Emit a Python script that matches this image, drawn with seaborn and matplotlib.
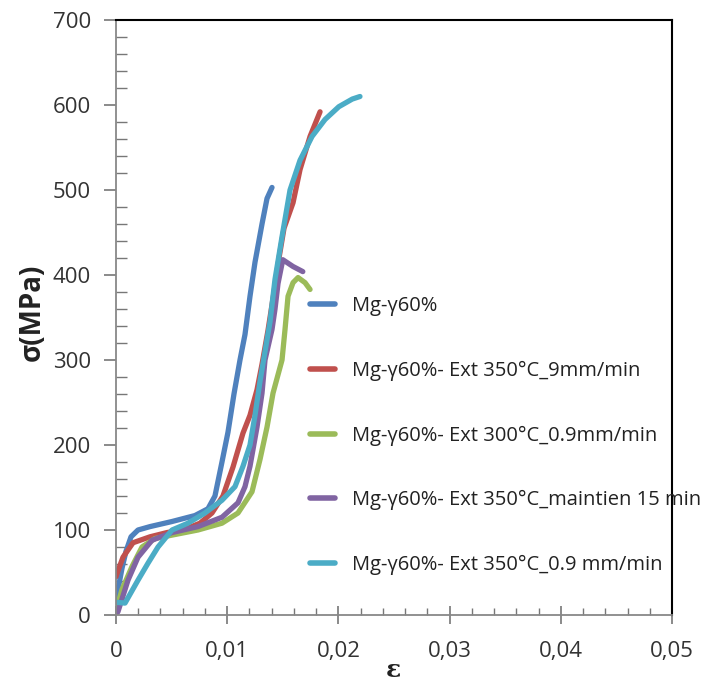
import matplotlib
matplotlib.use('Agg')
import matplotlib.pyplot as plt
import seaborn as sns
import pandas as pd
from matplotlib.ticker import MultipleLocator

# courbes contrainte-déformation
noms = ['Mg-γ60%',
        'Mg-γ60%- Ext 350°C_9mm/min',
        'Mg-γ60%- Ext 300°C_0.9mm/min',
        'Mg-γ60%- Ext 350°C_maintien 15 min',
        'Mg-γ60%- Ext 350°C_0.9 mm/min']
couleurs = ['#4F81BD', '#C0504D', '#9BBB59', '#8064A2', '#4BACC6']

eps_1 = [0, 0.00018, 0.00054, 0.0009, 0.00135, 0.00198, 0.00306, 0.00504, 0.0071, 0.00827,
         0.0089, 0.00953, 0.01007, 0.01061, 0.01115, 0.0116, 0.01205, 0.0125, 0.01313, 0.01358, 0.01403]
sig_1 = [5, 30, 55, 75, 92, 100, 104, 110, 117, 125,
         140, 180, 215, 260, 300, 330, 375, 415, 460, 490, 503]

eps_2 = [0, 0.00018, 0.00063, 0.00153, 0.00306, 0.00459, 0.00603, 0.00755, 0.00863, 0.00962,
         0.01052, 0.01142, 0.01205, 0.01268, 0.01313, 0.01367, 0.01421, 0.01466, 0.01511, 0.01592, 0.01655, 0.01745, 0.01835]
sig_2 = [45, 52, 68, 85, 92, 97, 100, 108, 120, 140,
         174, 214, 235, 265, 295, 335, 380, 420, 455, 485, 524, 563, 592]

eps_3 = [0, 0.00054, 0.00144, 0.00234, 0.00351, 0.00504, 0.00737, 0.00953, 0.01097, 0.01223,
         0.01295, 0.01358, 0.01412, 0.01493, 0.01520, 0.01547, 0.01592, 0.01637, 0.01700, 0.01745]
sig_3 = [5, 30, 57, 80, 90, 94, 100, 108, 120, 145,
         183, 221, 261, 300, 336, 375, 391, 397, 391, 383]

eps_4 = [0, 0.00018, 0.00108, 0.00198, 0.00324, 0.00504, 0.00737, 0.00953, 0.01097, 0.01160,
         0.01205, 0.01268, 0.01313, 0.01340, 0.01403, 0.01430, 0.01457, 0.01500, 0.01592, 0.01680]
sig_4 = [0, 4, 41, 68, 88, 97, 104, 115, 132, 151,
         175, 221, 261, 300, 336, 360, 390, 418, 410, 404]

eps_5 = [0, 0.00081, 0.00198, 0.00288, 0.00378, 0.00504, 0.00647, 0.00800, 0.00953, 0.01070,
         0.01142, 0.01205, 0.01250, 0.01295, 0.01340, 0.01385, 0.01430, 0.01493, 0.01565, 0.01655,
         0.01763, 0.01880, 0.02004, 0.02125, 0.02194]
sig_5 = [15, 14, 41, 61, 80, 100, 108, 120, 135, 151,
         175, 200, 235, 275, 310, 345, 395, 445, 500, 535, 563, 583, 598, 607, 610]

x_ticks = [0, 0.01, 0.02, 0.03, 0.04, 0.05]
x_labels = ['0', '0,01', '0,02', '0,03', '0,04', '0,05']
y_ticks = [0, 100, 200, 300, 400, 500, 600, 700]

frames = []
for nom, e, s in zip(noms, [eps_1, eps_2, eps_3, eps_4, eps_5], [sig_1, sig_2, sig_3, sig_4, sig_5]):
    frames.append(pd.DataFrame({'eps': e, 'sigma': s, 'serie': nom}))
df = pd.concat(frames, ignore_index=True)

sns.set_style('ticks')
plt.rcParams['font.family'] = ['Open Sans', 'DejaVu Sans']

fig = plt.figure(figsize=(7.04, 6.86), dpi=100)
ax = fig.add_axes([116 / 704, 1 - 615 / 686, 556 / 704, 595 / 686])

sns.lineplot(data=df, x='eps', y='sigma', hue='serie', hue_order=noms,
             palette=couleurs, sort=False, estimator=None, linewidth=3.8, ax=ax)

ax.set_xlim(0, 0.05)
ax.set_ylim(0, 700)
ax.set_xticks(x_ticks)
ax.set_xticklabels(x_labels)
ax.set_yticks(y_ticks)
ax.xaxis.set_minor_locator(MultipleLocator(0.002))
ax.yaxis.set_minor_locator(MultipleLocator(20))

ax.tick_params(axis='x', which='major', direction='inout', length=13, width=1.2,
               color='#777777', labelsize=16, labelcolor='#333333', pad=12)
ax.tick_params(axis='x', which='minor', direction='in', length=5, width=1.0, color='#777777')
ax.tick_params(axis='y', which='major', direction='out', length=9, width=1.2,
               color='#777777', labelsize=16, labelcolor='#333333', pad=9)
ax.tick_params(axis='y', which='minor', direction='in', length=8, width=1.0, color='#777777')

for cote in ['left', 'bottom']:
    ax.spines[cote].set_color('#888888')
    ax.spines[cote].set_linewidth(1.3)
for cote in ['top', 'right']:
    ax.spines[cote].set_visible(True)
    ax.spines[cote].set_color('black')
    ax.spines[cote].set_linewidth(1.5)

ax.set_xlabel('')
ax.set_ylabel('')
fig.text(32 / 704, 1 - 312 / 686, 'σ(MPa)', rotation=90, ha='center', va='center',
         fontsize=20, fontweight='bold', color='#222222')
fig.text(393 / 704, 1 - 670 / 686, 'ε', ha='center', va='center',
         fontsize=18, fontweight='bold', family='DejaVu Serif', color='#222222')

leg = ax.legend(loc='upper left', bbox_to_anchor=(310 / 704, 1 - 296 / 686),
                bbox_transform=fig.transFigure, frameon=False, fontsize=14.5,
                labelspacing=2.22, handlelength=1.25, handletextpad=0.85, borderpad=0,
                borderaxespad=0)
for ligne in leg.get_lines():
    ligne.set_linewidth(4)
for t in leg.get_texts():
    t.set_color('#222222')

fig.savefig('out.png', dpi=100, facecolor='white')
